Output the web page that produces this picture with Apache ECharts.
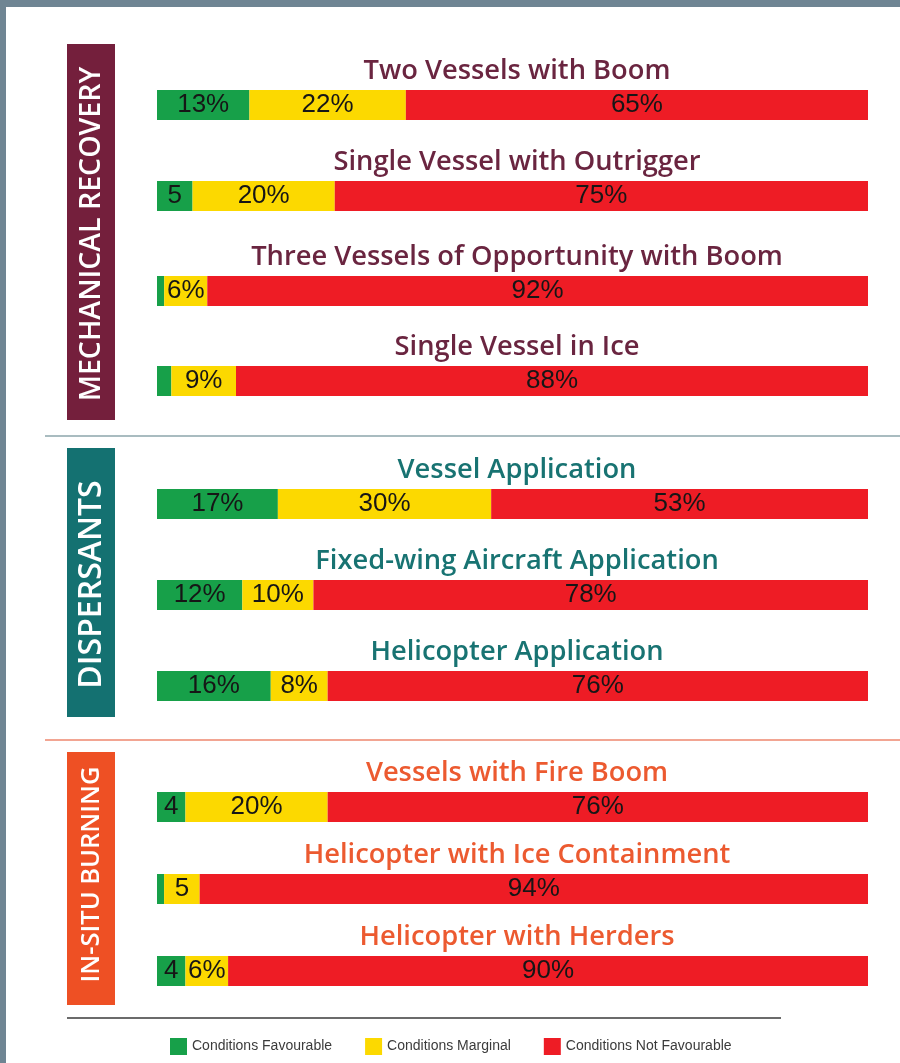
<!DOCTYPE html>
<html>
<head>
<meta charset="utf-8">
<script src="https://cdn.jsdelivr.net/npm/echarts@6/dist/echarts.min.js"></script>
<style>
  html, body { margin: 0; padding: 0; background: #ffffff; }
  #chart { width: 900px; height: 1063px; }
</style>
</head>
<body>
<div id="chart"></div>
<script>
// Response methods and their share of time with favourable / marginal / not favourable conditions
const categories = [
  'Two Vessels with Boom',
  'Single Vessel with Outrigger',
  'Three Vessels of Opportunity with Boom',
  'Single Vessel in Ice',
  'Vessel Application',
  'Fixed-wing Aircraft Application',
  'Helicopter Application',
  'Vessels with Fire Boom',
  'Helicopter with Ice Containment',
  'Helicopter with Herders'
];
const groupOfRow = [0, 0, 0, 0, 1, 1, 1, 2, 2, 2];
const favourable    = [13, 5, 1, 2, 17, 12, 16, 4, 1, 4];
const marginal      = [22, 20, 6, 9, 30, 10, 8, 20, 5, 6];
const notFavourable = [65, 75, 92, 88, 53, 78, 76, 76, 94, 90];
const favourableLabels    = ['13%', '5', '', '', '17%', '12%', '16%', '4', '', '4'];
const marginalLabels      = ['22%', '20%', '6%', '9%', '30%', '10%', '8%', '20%', '5', '6%'];
const notFavourableLabels = ['65%', '75%', '92%', '88%', '53%', '78%', '76%', '76%', '94%', '90%'];

const groups = ['MECHANICAL RECOVERY', 'DISPERSANTS', 'IN-SITU BURNING'];
const groupColors = ['#741f3c', '#147171', '#ee5024'];
const titleColors = ['#6a2540', '#187372', '#ec5a30'];
const legendNames = ['Conditions Favourable', 'Conditions Marginal', 'Conditions Not Favourable'];
const segColors = ['#17a049', '#fcd900', '#ee1c25'];

// layout
const barTops = [90, 181, 276, 366, 489, 580, 671, 792, 874, 956];
const barH = 30;
const barLeft = 157, barRight = 868;
const groupBoxes = [[44, 420], [448, 717], [752, 1005]];
const groupFontSizes = [28.5, 32, 25.5];

const grids = [], xAxes = [], yAxes = [], series = [], graphics = [];

const labelStyle = {
  show: true,
  position: 'inside',
  color: '#161616',
  fontFamily: 'Liberation Sans, Arial, sans-serif',
  fontSize: 26
};

categories.forEach((name, i) => {
  const total = favourable[i] + marginal[i] + notFavourable[i];
  grids.push({ left: barLeft, width: barRight - barLeft, top: barTops[i], height: barH });
  xAxes.push({ type: 'value', gridIndex: i, min: 0, max: total, show: false });
  yAxes.push({ type: 'category', gridIndex: i, data: [name], show: false });
  const parts = [
    [favourable, favourableLabels],
    [marginal, marginalLabels],
    [notFavourable, notFavourableLabels]
  ];
  parts.forEach((p, k) => {
    const txt = p[1][i];
    series.push({
      name: legendNames[k],
      type: 'bar',
      stack: 'row' + i,
      xAxisIndex: i,
      yAxisIndex: i,
      barWidth: '100%',
      silent: true,
      itemStyle: { color: segColors[k] },
      label: Object.assign({}, labelStyle, { show: txt !== '', formatter: () => txt }),
      data: [p[0][i]]
    });
  });
  // row title above each bar
  graphics.push({
    type: 'text',
    style: {
      x: 517, y: barTops[i] - 19,
      text: name,
      fill: titleColors[groupOfRow[i]],
      font: '600 27.3px "Open Sans", sans-serif',
      textAlign: 'center',
      textVerticalAlign: 'middle'
    }
  });
});

// frame strips
graphics.push({ type: 'rect', shape: { x: 0, y: 0, width: 900, height: 7 }, style: { fill: '#6f8593' } });
graphics.push({ type: 'rect', shape: { x: 0, y: 0, width: 6, height: 1063 }, style: { fill: '#6f8593' } });

// section boxes with vertical titles
groups.forEach((g, j) => {
  const [y0, y1] = groupBoxes[j];
  graphics.push({ type: 'rect', shape: { x: 67, y: y0, width: 48, height: y1 - y0 }, style: { fill: groupColors[j] } });
  graphics.push({
    type: 'text',
    x: 92, y: (y0 + y1) / 2 + (j === 2 ? -4 : 2),
    rotation: Math.PI / 2,
    style: {
      text: g,
      fill: '#ffffff',
      font: '600 ' + groupFontSizes[j] + 'px "Open Sans", sans-serif',
      textAlign: 'center',
      textVerticalAlign: 'middle'
    }
  });
});

// separators
graphics.push({ type: 'line', shape: { x1: 45, y1: 436, x2: 900, y2: 436 }, style: { stroke: '#a9bcc0', lineWidth: 2 } });
graphics.push({ type: 'line', shape: { x1: 45, y1: 740, x2: 900, y2: 740 }, style: { stroke: '#f2a592', lineWidth: 2 } });
graphics.push({ type: 'line', shape: { x1: 67, y1: 1018, x2: 781, y2: 1018 }, style: { stroke: '#3a3a3a', lineWidth: 1.5 } });

const chart = echarts.init(document.getElementById('chart'), null, { renderer: 'canvas' });
chart.setOption({
  backgroundColor: '#ffffff',
  animation: false,
  grid: grids,
  xAxis: xAxes,
  yAxis: yAxes,
  series: series,
  legend: {
    data: legendNames,
    left: 170,
    top: 1038,
    padding: 0,
    itemWidth: 17,
    itemHeight: 17,
    itemGap: 33,
    icon: 'rect',
    selectedMode: false,
    textStyle: { color: '#3b3b3b', fontFamily: 'Liberation Sans Narrow, Liberation Sans, Arial, sans-serif', fontSize: 14 }
  },
  graphic: graphics
});
</script>
</body>
</html>
